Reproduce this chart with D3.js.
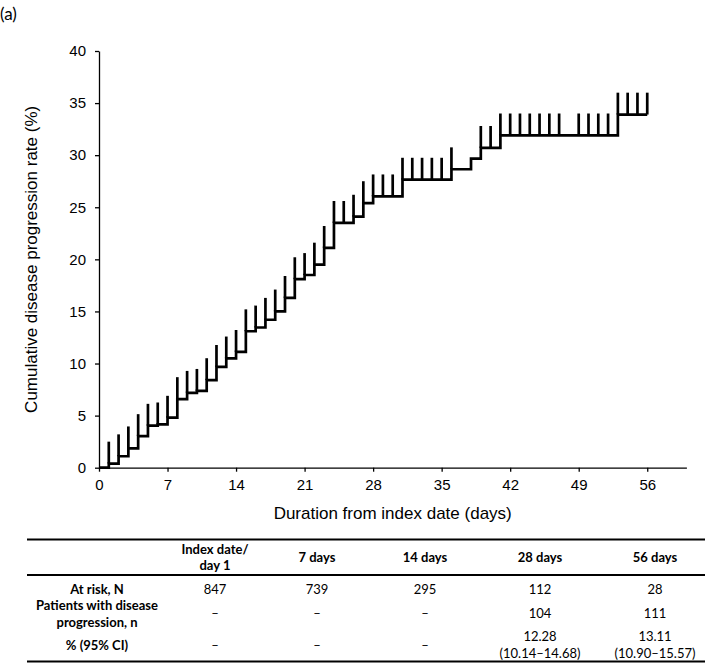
<!DOCTYPE html>
<html>
<head>
<meta charset="utf-8">
<script src="https://cdn.jsdelivr.net/npm/d3@7"></script>
<style>
  body { margin: 0; background: #fff; }
  svg { display: block; }
  .axis text { font-family: "Liberation Sans", Arial, sans-serif; font-size: 15px; fill: #000; }
  .axis path, .axis line { stroke: #000; stroke-width: 1.3px; }
  .tbl { font-family: Lato, "Open Sans", sans-serif; font-size: 13px; fill: #000; }
</style>
</head>
<body>
<div id="chart"></div>
<script>
// step function: day of each jump and the cumulative rate after it (%)
var stepDays = [0, 1, 2, 3, 4, 5, 6, 7, 8, 9, 10, 11, 12, 13, 14, 15, 16, 17, 18, 19, 20,
                21, 22, 23, 24, 26, 27, 28, 31, 36, 38, 39, 41, 53];
var stepLevels = [0, 0.4, 1.1, 1.86, 3.04, 4.03, 4.16, 4.8, 6.59, 7.19, 7.38, 8.41, 9.68, 10.49,
                  11.12, 13.1, 13.46, 14.2, 15.0, 16.3, 18.1, 18.5, 19.5, 21.1, 23.5, 24.1, 25.4,
                  26.05, 27.65, 28.65, 29.67, 30.7, 31.9, 33.9];
var lastDay = 56;
// censoring marks
var censorDays = [1, 2, 3, 4, 5, 6, 7, 8, 9, 10, 11, 12, 13, 14, 15, 16, 17, 18, 19, 20, 21, 22,
                  23, 24, 25, 26, 27, 28, 29, 30, 31, 32, 33, 34, 35, 36, 39, 40, 41, 42, 43, 44,
                  45, 46, 47, 49, 50, 51, 52, 53, 54, 55, 56];

var xTicks = [0, 7, 14, 21, 28, 35, 42, 49, 56];
var yTicks = [0, 5, 10, 15, 20, 25, 30, 35, 40];

// table below the chart
var colHeads = [["Index date/", "day 1"], ["7 days"], ["14 days"], ["28 days"], ["56 days"]];
var rowHeads = [["At risk, N"], ["Patients with disease", "progression, n"], ["% (95% CI)"]];
var atRisk = ["847", "739", "295", "112", "28"];
var progressed = ["\u2013", "\u2013", "\u2013", "104", "111"];
var pctCI = [["\u2013"], ["\u2013"], ["\u2013"], ["12.28", "(10.14\u201314.68)"], ["13.11", "(10.90\u201315.57)"]];

var W = 708, H = 663;
var margin = {top: 51, left: 99},
    width = 587.4,
    height = 416.7;
var markH = 2.1; // height of censor marks, in % units

var svg = d3.select("#chart").append("svg")
    .attr("width", W).attr("height", H);

svg.append("text")
    .attr("x", 0).attr("y", 20)
    .attr("font-family", "Lato, sans-serif")
    .attr("font-size", "17px")
    .text("(a)");

var g = svg.append("g")
    .attr("transform", "translate(" + margin.left + "," + margin.top + ")");

var x = d3.scaleLinear().domain([0, 60]).range([0, width]);
var y = d3.scaleLinear().domain([0, 40]).range([height, 0]);

g.append("g")
    .attr("class", "axis")
    .attr("transform", "translate(0," + height + ")")
    .call(d3.axisBottom(x).tickValues(xTicks).tickSize(4).tickSizeOuter(0).tickPadding(8));

g.append("g")
    .attr("class", "axis")
    .call(d3.axisLeft(y).tickValues(yTicks).tickSize(4).tickSizeOuter(0).tickPadding(9));

// step curve
var pts = stepDays.map(function(d, i) { return [d, stepLevels[i]]; });
pts.push([lastDay, stepLevels[stepLevels.length - 1]]);

var line = d3.line()
    .x(function(d) { return x(d[0]); })
    .y(function(d) { return y(d[1]); })
    .curve(d3.curveStepAfter);

g.append("path")
    .datum(pts)
    .attr("fill", "none")
    .attr("stroke", "#000")
    .attr("stroke-width", 2.7)
    .attr("d", line);

function levelAt(t) {
    var v = 0;
    stepDays.forEach(function(d, i) { if (d <= t) v = stepLevels[i]; });
    return v;
}

g.selectAll(".cens")
    .data(censorDays)
    .enter().append("line")
    .attr("class", "cens")
    .attr("x1", function(d) { return x(d); })
    .attr("x2", function(d) { return x(d); })
    .attr("y1", function(d) { return y(levelAt(d)); })
    .attr("y2", function(d) { return y(levelAt(d) + markH); })
    .attr("stroke", "#000")
    .attr("stroke-width", 2.7);

// axis titles
g.append("text")
    .attr("x", width / 2).attr("y", height + 51)
    .attr("text-anchor", "middle")
    .attr("font-family", "Liberation Sans, Arial, sans-serif")
    .attr("font-size", "17px")
    .text("Duration from index date (days)");

g.append("text")
    .attr("transform", "rotate(-90)")
    .attr("x", -height / 2).attr("y", -62)
    .attr("text-anchor", "middle")
    .attr("font-family", "Liberation Sans, Arial, sans-serif")
    .attr("font-size", "17px")
    .text("Cumulative disease progression rate (%)");

////////////// table //////////////
var tbl = svg.append("g").attr("class", "tbl");
var colX = [215, 317, 425, 540, 655];
var rowLabelX = 97;
var left = 27, right = 705;

function rule(yy) {
    tbl.append("line")
        .attr("x1", left).attr("x2", right)
        .attr("y1", yy).attr("y2", yy)
        .attr("stroke", "#000").attr("stroke-width", 2);
}
rule(539.5);
rule(575);
rule(661.5);

// draw a cell with one or more lines centred on cy
function cell(cx, cy, lines, lh, bold) {
    var t = tbl.append("text")
        .attr("x", cx)
        .attr("text-anchor", "middle")
        .attr("font-weight", bold ? "bold" : "normal");
    lines.forEach(function(s, i) {
        t.append("tspan")
            .attr("x", cx)
            .attr("y", cy + (i - (lines.length - 1) / 2) * lh)
            .attr("dominant-baseline", "central")
            .text(s);
    });
}

colHeads.forEach(function(h, i) { cell(colX[i], 557, h, 15.6, true); });

var rowY = [589, 613, 644.5];
rowHeads.forEach(function(h, i) { cell(rowLabelX, rowY[i], h, 17, true); });

atRisk.forEach(function(v, i) { cell(colX[i], rowY[0], [v], 17, false); });
progressed.forEach(function(v, i) { cell(colX[i], rowY[1], [v], 17, false); });
pctCI.forEach(function(v, i) { cell(colX[i], rowY[2], v, 17, false); });
</script>
</body>
</html>
